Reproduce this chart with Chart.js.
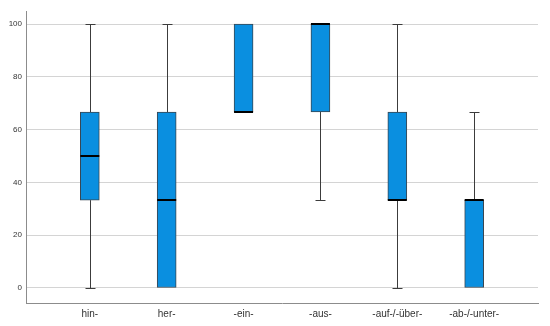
<!DOCTYPE html>
<html>
<head>
<meta charset="utf-8">
<script src="https://cdn.jsdelivr.net/npm/chart.js@4"></script>
<style>
  html, body { margin: 0; padding: 0; background: #fff; }
  #wrap { width: 550px; height: 326px; }
</style>
</head>
<body>
<div id="wrap"><canvas id="boxChart"></canvas></div>
<script>
// Categories and box plot values
const categories = ["hin-", "her-", "-ein-", "-aus-", "-auf-/-über-", "-ab-/-unter-"];
const minValues    = [0,    0,    66.7, 33.3, 0,    0];
const q1Values     = [33.3, 0,    66.7, 66.7, 33.3, 0];
const medianValues = [50,   33.3, 66.7, 100,  33.3, 33.3];
const q3Values     = [66.7, 66.7, 100,  100,  66.7, 33.3];
const maxValues    = [100,  100,  100,  100,  100,  66.7];
const yTicks = [0, 20, 40, 60, 80, 100];

const boxData = categories.map((c, i) => ({ x: i, y: [q1Values[i], q3Values[i]] }));

// Draw whiskers, caps and medians on top of the boxes
const boxExtras = {
  id: "boxExtras",
  beforeDatasetsDraw(chart) {
    const ctx = chart.ctx;
    const xs = chart.scales.x, ys = chart.scales.y;
    ctx.save();
    ctx.strokeStyle = "#3c3c3c";
    ctx.lineWidth = 1;
    categories.forEach((c, i) => {
      const x = Math.round(xs.getPixelForValue(i)) + 0.5;
      const capHalf = 5;
      // upper whisker
      if (maxValues[i] > q3Values[i]) {
        const yTop = Math.round(ys.getPixelForValue(maxValues[i])) + 0.5;
        const yQ3 = ys.getPixelForValue(q3Values[i]);
        ctx.beginPath();
        ctx.moveTo(x, yQ3); ctx.lineTo(x, yTop);
        ctx.moveTo(x - capHalf, yTop); ctx.lineTo(x + capHalf, yTop);
        ctx.stroke();
      }
      // lower whisker
      if (minValues[i] < q1Values[i]) {
        const yBot = Math.round(ys.getPixelForValue(minValues[i])) + 0.5;
        const yQ1 = ys.getPixelForValue(q1Values[i]);
        ctx.beginPath();
        ctx.moveTo(x, yQ1); ctx.lineTo(x, yBot);
        ctx.moveTo(x - capHalf, yBot); ctx.lineTo(x + capHalf, yBot);
        ctx.stroke();
      }
    });
    ctx.restore();
  },
  afterDatasetsDraw(chart) {
    const ctx = chart.ctx;
    const xs = chart.scales.x, ys = chart.scales.y;
    const half = 9.5;
    ctx.save();
    ctx.strokeStyle = "#000";
    ctx.lineWidth = 2;
    categories.forEach((c, i) => {
      const x = xs.getPixelForValue(i);
      const y = Math.round(ys.getPixelForValue(medianValues[i]));
      ctx.beginPath();
      ctx.moveTo(x - half, y); ctx.lineTo(x + half, y);
      ctx.stroke();
    });
    ctx.restore();
  }
};

new Chart(document.getElementById("boxChart"), {
  type: "bar",
  data: {
    datasets: [{
      data: boxData,
      backgroundColor: "#0a8fe0",
      borderColor: "#3a4650",
      borderWidth: 1,
      borderSkipped: false,
      barThickness: 19
    }]
  },
  options: {
    responsive: true,
    maintainAspectRatio: false,
    animation: false,
    layout: { padding: { top: 11, right: 12, left: 0, bottom: 0 } },
    plugins: {
      legend: { display: false },
      tooltip: { enabled: false }
    },
    scales: {
      x: {
        type: "linear",
        offset: false,
        min: -0.83,
        max: 5.83,
        afterBuildTicks(scale) {
          scale.ticks = categories.map((c, i) => ({ value: i }));
        },
        afterFit(scale) { scale.height = 23; },
        grid: { display: false, drawTicks: false, offset: false },
        border: { color: "#8c8c8c", width: 1 },
        ticks: {
          autoSkip: false,
          maxRotation: 0,
          padding: 5,
          color: "#333",
          font: { family: "Liberation Sans, Arial, sans-serif", size: 10 },
          callback: (v) => categories[v]
        }
      },
      y: {
        min: -5.7,
        max: 105,
        afterBuildTicks(scale) {
          scale.ticks = yTicks.map(v => ({ value: v }));
        },
        afterFit(scale) { scale.width = 26; },
        grid: { color: "#d4d4d4", drawTicks: false },
        border: { color: "#8c8c8c", width: 1 },
        ticks: {
          padding: 4,
          color: "#333",
          font: { family: "Liberation Sans, Arial, sans-serif", size: 8 }
        }
      }
    }
  },
  plugins: [boxExtras]
});
</script>
</body>
</html>
